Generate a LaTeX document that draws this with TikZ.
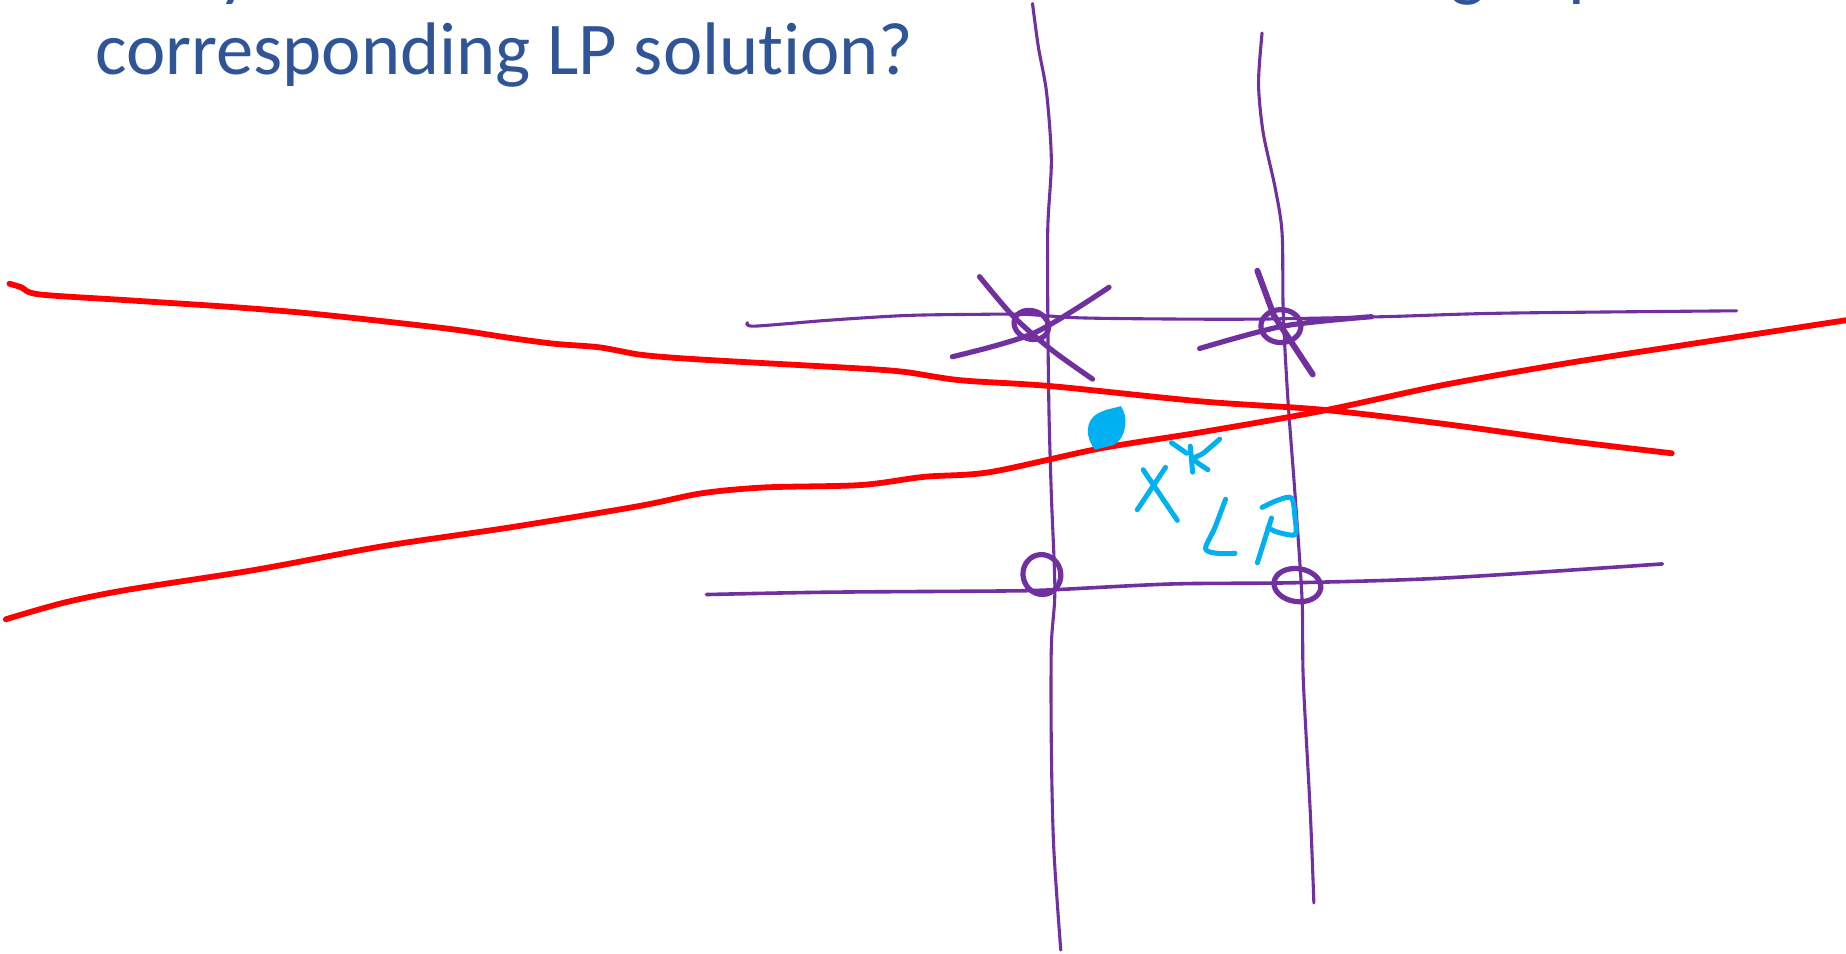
\documentclass[tikz,border=0pt]{standalone}
\usepackage{fontspec}
\setmainfont{Carlito}[Ligatures=NoCommon]
\usepackage{tikz}
\usetikzlibrary{arrows.meta, positioning, calc}
\definecolor{titleblue}{HTML}{2F5597}
\definecolor{inkred}{HTML}{FF0000}
\definecolor{inkpurple}{HTML}{7030A0}
\definecolor{inkcyan}{HTML}{00B0F0}
\tikzset{
    titletext/.style={anchor=base west, inner sep=0pt, text=titleblue, font=\fontsize{74.5}{88}\selectfont},
    redink/.style={draw=inkred, line width=5.8pt, line cap=round, line join=round},
    gridink/.style={draw=inkpurple, line width=3.1pt, line cap=round, line join=round},
    markink/.style={draw=inkpurple, line width=5.2pt, line cap=round, line join=round},
    cyanink/.style={draw=inkcyan, line width=5pt, line cap=round, line join=round}
}
\begin{document}
\begin{tikzpicture}[x=1.1773pt, y=-1.1773pt]
        \useasboundingbox (0,0) rectangle (1568,810);
        \fill[white] (0,0) rectangle (1568,810);

        \node[titletext] (prevy) at (185,-6) {y};
        \node[titletext] (prevg) at (1232,-6) {g};
        \node[titletext] (prevp) at (1332,-6) {p};
        \node[titletext] (question) at (80.7,63.7) {corresponding LP solution?};

        \draw[gridink] plot[smooth] coordinates {(877,3) (882,40) (889,79) (893,136) (890,193) (890,266) (891,350) (893,420) (896,501) (893,549) (893,634) (895,719) (901,807)};
        \draw[gridink] plot[smooth] coordinates {(1072,28) (1069,71) (1073,113) (1083,159) (1089,198) (1090,266) (1094,340) (1100,420) (1106,510) (1107,577) (1113,691) (1116,767)};
        \draw[gridink] plot[smooth] coordinates {(635,274) (641,277) (704,272) (769,268) (830,267) (870,267) (918,270) (1000,271) (1072,271) (1175,269) (1277,266) (1475,264)};
        \draw[gridink, line width=3.6pt] plot[smooth] coordinates {(600,505) (704,503) (849,502) (893,501) (996,496) (1098,495) (1226,491) (1412,479)};

        \draw[redink] plot[smooth] coordinates {(8,241) (18,244) (33,250) (108,255) (200,261) (271,267) (379,279) (433,287) (471,292) (509,295) (542,301) (574,304) (623,307) (731,313) (769,316) (816,323) (893,328) (1021,341) (1123,348) (1226,360) (1328,374) (1420,385)};
        \draw[redink] plot[smooth] coordinates {(5,526) (54,512) (108,501) (217,484) (325,464) (433,448) (542,430) (596,419) (650,414) (731,412) (785,405) (841,401) (934,381) (1021,367) (1123,349) (1226,327) (1328,309) (1431,293) (1568,272)};

        \draw[markink] plot[smooth] coordinates {(832,235) (861,269) (893,297) (928,322)};
        \draw[markink] plot[smooth] coordinates {(809,303) (878,283) (942,244)};
        \draw[markink, rotate around={-20:(876,276)}] (876,276) ellipse (15 and 12);
        \draw[markink, line width=6pt] (1068,230) -- (1082,268) -- (1115,318);
        \draw[markink] plot[smooth] coordinates {(1019,296) (1090,277) (1165,269)};
        \draw[markink] (1088,277) ellipse (17 and 14);
        \draw[markink, rotate around={15:(885,488)}] (885,488) ellipse (16 and 17);
        \draw[markink, rotate around={-8:(1102,497)}] (1102,497) ellipse (20 and 14);

        \fill[inkcyan] (930,382) .. controls (922,372) and (921,357) .. (933,351) .. controls (940,347) and (946,347) .. (952,345) .. controls (958,352) and (958,371) .. (946,378) -- cycle;
        \draw[cyanink] (966,433) -- (990,397);
        \draw[cyanink] (971,399) -- (1000,442);
        \draw[cyanink] (995,376) -- (1008,385);
        \draw[cyanink] (1011,379) -- (1013,401);
        \draw[cyanink] plot[smooth] coordinates {(1036,373) (1022,385) (1014,390) (1026,399)};
        \draw[cyanink] plot[smooth] coordinates {(1041,424) (1032,448) (1024,466) (1034,470) (1049,470)};
        \draw[cyanink] plot[smooth] coordinates {(1072,431) (1085,425) (1097,423) (1100,440) (1100,454) (1085,452) (1077,448)};
        \draw[cyanink] (1080,440) -- (1068,478);
    \end{tikzpicture}
\end{document}
